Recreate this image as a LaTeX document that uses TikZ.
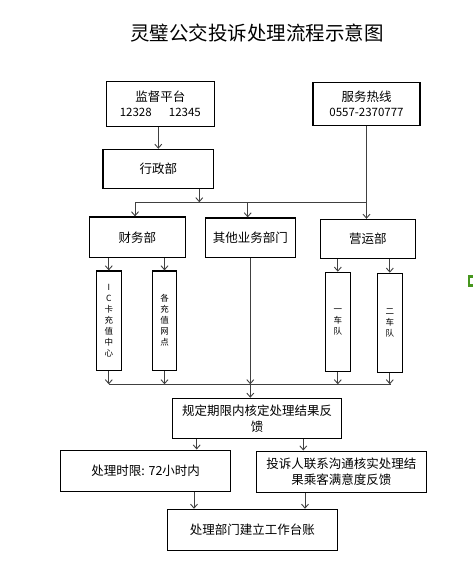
\documentclass[tikz,border=0pt]{standalone}
\usepackage{fontspec}
\setmainfont{Noto Sans CJK SC}
\usetikzlibrary{arrows.meta}
\definecolor{linegray}{RGB}{64,64,64}
\definecolor{markgreen}{RGB}{70,150,30}
\begin{document}
\begin{tikzpicture}[x=1pt,y=-1pt,
  box/.style={draw=black,line width=1.1pt,inner sep=0pt,align=center,
    font=\fontsize{12.5}{16}\selectfont},
  vbox/.style={draw=black,line width=1.1pt,inner sep=0pt,align=center,
    minimum width=25pt,minimum height=99.5pt,font=\fontsize{8.5}{11}\selectfont},
  conn/.style={draw=linegray,line width=0.9pt},
  arr/.style={conn,-{Straight Barb[length=4pt,width=7pt]}}]
\useasboundingbox (0,0) rectangle (473,581);
% title
\node[font=\fontsize{19.5}{22}\selectfont] (title) at (257,33) {灵璧公交投诉处理流程示意图};
% top boxes
\node[box,minimum width=108pt,minimum height=45pt] (jd) at (160.3,103.8)
  {监督平台\\[-1pt]{\fontsize{11.5}{13}\selectfont 12328\hspace{1.5em}12345}};
\node[box,minimum width=107pt,minimum height=43pt] (fw) at (366.5,103.8)
  {服务热线\\[-1pt]{\fontsize{11.5}{13}\selectfont 0557-2370777}};
\node[box,minimum width=110.7pt,minimum height=38.7pt] (xz) at (158.3,168.7) {行政部};
% departments
\node[box,minimum width=96pt,minimum height=40.7pt] (cw) at (137.3,237.3) {财务部};
\node[box,minimum width=90pt,minimum height=39.7pt] (qt) at (250.3,237.8) {其他业务部门};
\node[box,minimum width=95pt,minimum height=39.3pt] (yy) at (367.8,239) {营运部};
% sub units
\node[vbox] (ic) at (108.8,320.7) {\raisebox{0pt}{I}\\C\\卡\\充\\值\\中\\心};
\node[vbox,minimum width=24.4pt] (gc) at (164.5,320.7) {各\\充\\值\\网\\点};
\node[vbox] (c1) at (337.8,322) {一\\车\\队};
\node[vbox] (c2) at (389.8,323) {二\\车\\队};
% lower boxes
\node[box,minimum width=169.4pt,minimum height=40pt] (gd) at (257,418.3)
  {规定期限内核定处理结果反\\馈};
\node[box,minimum width=170pt,minimum height=41.3pt] (sx) at (145.7,470.7)
  {处理时限: 72小时内};
\node[box,minimum width=170pt,minimum height=41.3pt] (ts) at (341.3,471.7)
  {投诉人联系沟通核实处理结\\果乘客满意度反馈};
\node[box,minimum width=170pt,minimum height=41pt] (tz) at (252.3,529.8)
  {处理部门建立工作台账};
% junction coordinates
\coordinate (hl) at (135,202.3);
\coordinate (hr) at (366.7,202.3);
\coordinate (j1) at (199.3,202.3);
\coordinate (jq) at (247.7,202.3);
\coordinate (bl) at (109.3,384.3);
\coordinate (br) at (390.7,384.3);
% connectors top
\draw[arr] (jd.south -| xz.north) -- (xz.north);
\draw[arr] (xz.south -| j1) -- (j1);
\draw[conn] (hl) -- (hr);
\draw[arr] (fw.south) -- (fw.south |- yy.north);
\draw[arr] (hl) -- (hl |- cw.north);
\draw[arr] (jq) -- (jq |- qt.north);
% to sub units
\draw[arr] (cw.south -| ic.north) -- (ic.north);
\draw[arr] (cw.south -| gc.north) -- (gc.north);
\draw[arr] (yy.south -| c1.north) -- (c1.north);
\draw[arr] (yy.south -| c2.north) -- (c2.north);
% to bottom line
\draw[conn] (bl) -- (br);
\draw[arr] (ic.south) -- (ic.south |- bl);
\draw[arr] (gc.south) -- (gc.south |- bl);
\draw[arr] (qt.south) -- (qt.south |- bl);
\draw[arr] (c1.south) -- (c1.south |- bl);
\draw[arr] (c2.south) -- (c2.south |- br);
\draw[arr] (qt.south |- bl) -- (qt.south |- gd.north);
% lower connectors
\draw[arr] ([xshift=-60.3pt]gd.south) -- ([xshift=-60.3pt]gd.south |- sx.north);
\draw[arr] ([xshift=46.3pt]gd.south) -- ([xshift=46.3pt]gd.south |- ts.north);
\draw[arr] ([xshift=-58.3pt]tz.north |- sx.south) -- ([xshift=-58.3pt]tz.north);
\draw[arr] ([xshift=52.7pt]tz.north |- ts.south) -- ([xshift=52.7pt]tz.north);
% green mark at right edge
\draw[markgreen,line width=2.4pt] (475,276.5) -- (469.2,276.5) -- (469.2,285.5) -- (475,285.5);
\end{tikzpicture}
\end{document}
